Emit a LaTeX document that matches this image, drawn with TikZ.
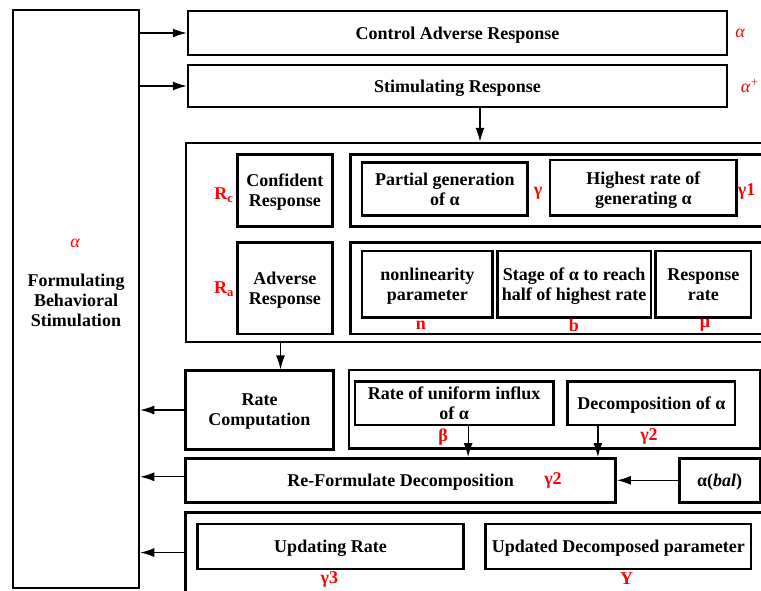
\documentclass[tikz,border=0pt]{standalone}
\usepackage{fontspec}
\setmainfont{Liberation Serif}
\usetikzlibrary{arrows.meta}
\usetikzlibrary{calc}

\begin{document}
\begin{tikzpicture}[x=1pt, y=-1pt,
  font=\fontsize{18}{20}\selectfont\bfseries,
  blk/.style={rectangle, draw=black, line width=2.5pt, align=center, inner sep=0pt, text depth=0pt},
  lbl/.style={text=red, inner sep=0pt},
  conn/.style={-{Latex[length=14pt, width=9pt]}, line width=1.3pt}]
\clip (0, 0) rectangle (761, 590);
% left column
\node [blk, minimum width=126pt, minimum height=578pt] (FB) at (76, 299) {};
\node [align=center, inner sep=0pt] (FBt) at (76, 300) {Formulating\\Behavioral\\Stimulation};
\node [lbl] (FBa) at (75, 243) {\mdseries\itshape α};
% top rows
\node [blk, minimum width=539pt, minimum height=44pt] (CA) at (457.5, 33) {Control Adverse Response};
\node [blk, minimum width=539pt, minimum height=42pt] (SR) at (457.5, 86) {Stimulating Response};
\node [lbl] (CAa) at (740, 33) {\mdseries\itshape α};
\node [lbl] (SRa) at (750, 86) {\mdseries\itshape α\textsuperscript{+}};
% response group
\node [blk, minimum width=594pt, minimum height=199pt] (RG) at (483, 242.5) {};
\node [blk, minimum width=95pt, minimum height=72.4pt] (RC) at (284.8, 190.5) {Confident\\Response};
\node [blk, minimum width=95pt, minimum height=91.3pt] (RA) at (284.8, 288.3) {Adverse\\Response};
\node [lbl] (RCl) at (224, 195) {R\textsubscript{c}};
\node [lbl] (RAl) at (224, 289) {R\textsubscript{a}};
\node [blk, minimum width=429.3pt, minimum height=72.4pt] (RCf) at (565.35, 190.5) {};
\node [blk, minimum width=429.3pt, minimum height=91.3pt] (RAf) at (565.35, 288.35) {};
\node [blk, minimum width=165.7pt, minimum height=52.6pt] (PG) at (444.85, 189) {Partial generation\\of α};
\node [blk, minimum width=186.7pt, minimum height=55.7pt] (HR) at (643.35, 187.85) {Highest rate of\\generating α};
\node [lbl] (PGl) at (538, 193) {γ};
\node [lbl] (HRl) at (746.7, 191.7) {γ1};
\node [blk, minimum width=130.7pt, minimum height=66.7pt] (NP) at (427.35, 284.35) {nonlinearity\\parameter};
\node [blk, minimum width=153.7pt, minimum height=66.7pt] (SH) at (574.15, 284.35) {Stage of α to reach\\half of highest rate};
\node [blk, minimum width=95.3pt, minimum height=66.7pt] (RR) at (703.35, 284.35) {Response\\rate};
\node [lbl] (NPl) at (421, 325) {n};
\node [lbl] (SHl) at (574, 325) {b};
\node [lbl] (RRl) at (705, 325) {μ};
% rate computation
\node [blk, minimum width=147.6pt, minimum height=78.6pt] (RT) at (259.5, 410) {Rate\\Computation};
\node [blk, minimum width=411pt, minimum height=78.3pt] (RTf) at (554.5, 409.15) {};
\node [blk, minimum width=198.3pt, minimum height=43.3pt] (UI) at (454.15, 403.35) {Rate of uniform influx\\of α};
\node [blk, minimum width=167.3pt, minimum height=43.3pt] (DA) at (651.35, 403.35) {Decomposition of α};
\node [lbl] (UIl) at (443, 436.7) {β};
\node [lbl] (DAl) at (649, 436.7) {γ2};
% re-formulate
\node [blk, minimum width=430pt, minimum height=44pt] (RF) at (400.7, 480.3) {Re-Formulate Decomposition};
\node [lbl] (RFl) at (553, 480) {γ2};
\node [blk, minimum width=80.7pt, minimum height=44pt] (AB) at (719.65, 480.3) {α(\textit{bal})};
% updating
\node [blk, minimum width=594.3pt, minimum height=79.3pt] (UP) at (482.85, 552.35) {};
\node [blk, minimum width=265.6pt, minimum height=45pt] (UR) at (330.5, 546.5) {Updating Rate};
\node [blk, minimum width=265.3pt, minimum height=45pt] (UD) at (618.35, 546.5) {Updated Decomposed parameter};
\node [lbl] (URl) at (329.3, 579.3) {γ3};
\node [lbl] (UDl) at (626.7, 579) {Y};
% connectors
\draw [conn] (CA.west -| FB.east) -- (CA.west);
\draw [conn] (SR.west -| FB.east) -- (SR.west);
\coordinate (SRo) at ([xshift=22.5pt]SR.south);
\draw [conn] (SRo) -- (SRo |- RG.north);
\coordinate (RTi) at ([xshift=21pt]RT.north);
\draw [conn] (RTi |- RG.south) -- (RTi);
\draw [conn] (RT.west) -- (RT.west -| FB.east);
\draw [conn] ([yshift=3.5pt]RF.west) -- ([yshift=3.5pt]RF.west -| FB.east);
\draw [conn] ([yshift=-0.2pt]UP.west) -- ([yshift=-0.2pt]UP.west -| FB.east);
\coordinate (UIo) at ([xshift=14pt]UI.south);
\draw [conn] (UIo) -- (UIo |- RF.north);
\coordinate (DAo) at ([xshift=-53.5pt]DA.south);
\draw [conn] (DAo) -- (DAo |- RF.north);
\draw [conn] (AB.west) -- (AB.west -| RF.east);
\end{tikzpicture}
\end{document}
